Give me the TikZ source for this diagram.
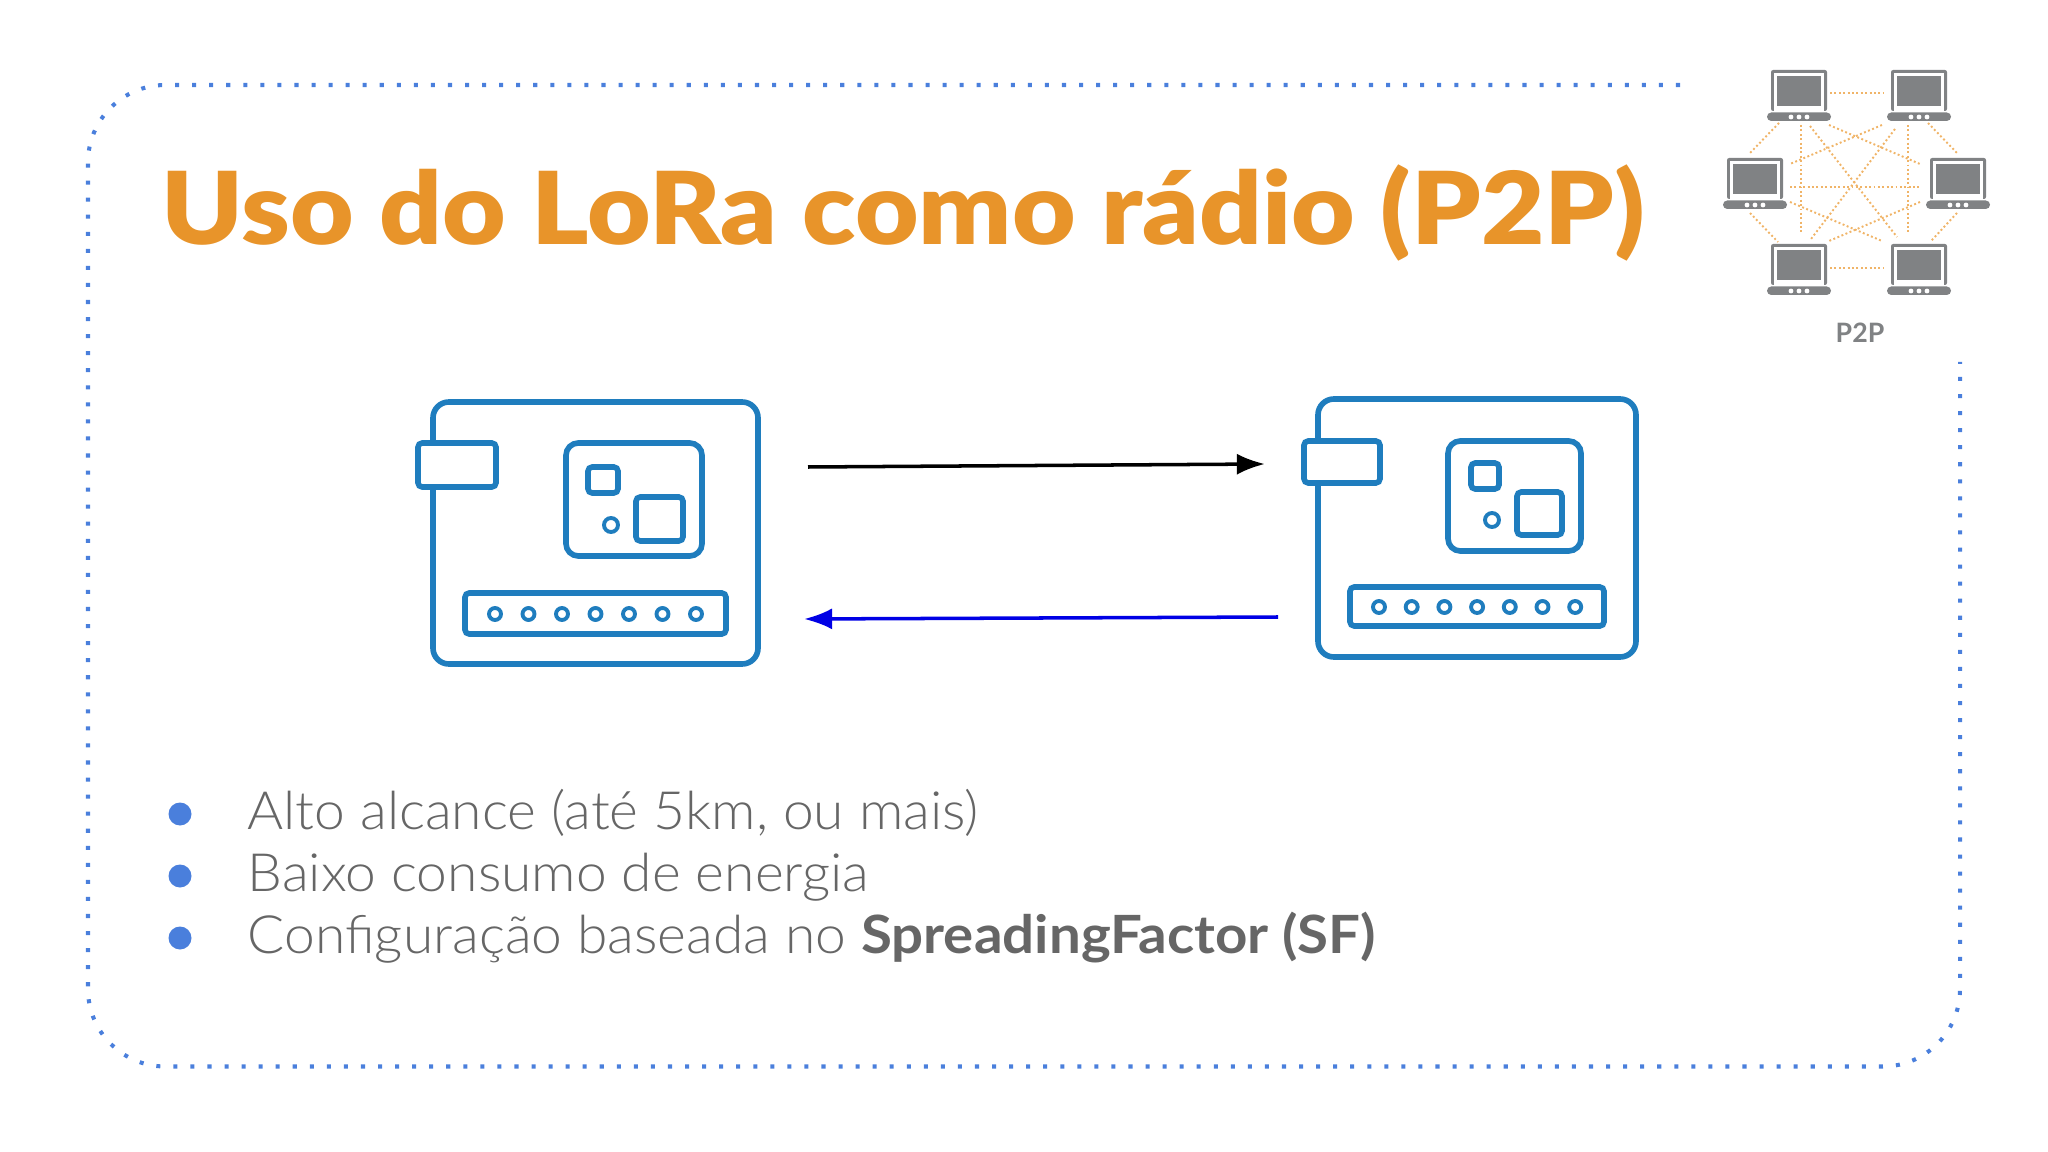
\documentclass[tikz,border=0pt]{standalone}
\usepackage{fontspec}
\setmainfont{Lato}
\newfontfamily\lightfont[FakeStretch=1.045]{Lato Light}
\newfontfamily\strongfont[FakeStretch=1.07]{Lato Bold}
\newfontfamily\heavyfont[FakeStretch=1.09]{Lato Black}
\usetikzlibrary{arrows.meta}
\definecolor{boardblue}{HTML}{1F7DBE}
\definecolor{framblue}{HTML}{4A7FDC}
\definecolor{titleorange}{HTML}{E8942A}
\definecolor{lapgray}{HTML}{808284}
\definecolor{textgray}{HTML}{666666}
\definecolor{linkorange}{HTML}{F0B468}
\tikzset{
  board/.style={draw=boardblue,line width=1.6pt,rounded corners=4.5pt,fill=white},
  part/.style={draw=boardblue,line width=1.6pt,rounded corners=1.2pt,fill=white},
  pin/.style={draw=boardblue,line width=1.1pt},
  link/.style={draw=linkorange,line width=0.55pt,dash pattern=on 0.55pt off 0.7pt},
  bullettext/.style={anchor=base west,inner sep=0pt,text=textgray,font=\lightfont\fontsize{15}{17}\selectfont},
  laptop/.pic={
    \fill[lapgray,rounded corners=0.6pt] (-28,0) rectangle (28,41);
    \fill[white] (-25,3) rectangle (25,41);
    \fill[lapgray] (-22,6) rectangle (22,36);
    \fill[lapgray,rounded corners=1.2pt] (-32,42.5) rectangle (32,51);
    \foreach \dx in {-8,0,8} \fill[white] (\dx,47) circle (2.4);
  }
}
\begin{document}
\begin{tikzpicture}[x=0.01cm,y=-0.01cm]
  \useasboundingbox (0,0) rectangle (2048,1152);
% Dotted frame
  \draw[framblue,line width=1.15pt,dash pattern=on 1.15pt off 3.7pt,rounded corners=22pt]
    (1680,85) -- (88,85) -- (88,1066.5) -- (1960,1066.5) -- (1960,362);
% Title
  \node[anchor=base west,inner sep=0pt,text=titleorange] (title) at (161,245)
    {\fontsize{28.6}{34}\heavyfont Uso do LoRa como rádio (P2P)};
% P2P network
  \foreach \ax/\ay/\bx/\by in {1830/93/1884/93,1830/268/1884/268,1779/123/1750/153,
    1928/123/1957/153,1750/213/1778/242,1957/213/1931/241,1801/125/1801/233,
    1908/125/1908/233,1810/126/1897/237,1895/129/1811/239,1829/125/1920/164,
    1882/125/1790/164,1790/187/1920/187,1790/202/1882/241,1920/202/1829/241}
    \draw[link] (\ax,\ay) -- (\bx,\by);
  \pic at (1799,70) {laptop};
  \pic at (1919,70) {laptop};
  \pic at (1755,158) {laptop};
  \pic at (1958,158) {laptop};
  \pic at (1799,244) {laptop};
  \pic at (1919,244) {laptop};
  \node[text=lapgray,inner sep=0pt,font=\fontsize{7.6}{9}\selectfont\bfseries] (ptwop) at (1860,333) {P2P};
% Left board
  \draw[board] (433,402) rectangle (758,664);
  \draw[part] (418,443) rectangle (496,487);
  \draw[board,rounded corners=3.5pt] (566,443) rectangle (702,556);
  \draw[part] (588,467) rectangle (618,493);
  \draw[part] (636,497) rectangle (683,541);
  \draw[pin] (611,525) circle (7);
  \draw[part] (465,593) rectangle (726,634);
  \foreach \i in {0,...,6} \draw[pin] (495+33.5*\i,614) circle (6);
% Right board
  \draw[board] (1318,399) rectangle (1636,657);
  \draw[part] (1304,441) rectangle (1380,483);
  \draw[board,rounded corners=3.5pt] (1448,441) rectangle (1581,551);
  \draw[part] (1471,463) rectangle (1499,489);
  \draw[part] (1517,492) rectangle (1562,535);
  \draw[pin] (1492,520) circle (7);
  \draw[part] (1350,587) rectangle (1604,626);
  \foreach \i in {0,...,6} \draw[pin] (1379+32.7*\i,607) circle (6);
% Arrows between the boards
  \coordinate (txa) at (808,467);
  \coordinate (txb) at (1265,464);
  \coordinate (rxa) at (1278,617);
  \coordinate (rxb) at (804,619);
  \draw[-{Latex[length=8pt,width=6pt]},line width=1pt,black] (txa) -- (txb);
  \draw[-{Latex[length=8pt,width=6pt]},line width=1pt,blue!90!black] (rxa) -- (rxb);
% Bullet list
  \foreach \by in {814,876,938} \fill[framblue] (180,\by) circle (11.5);
  \node[bullettext] (alto) at (247,829) {Alto alcance (até 5km, ou mais)};
  \node[bullettext] (baixo) at (247,891) {Baixo consumo de energia};
  \node[bullettext] (config) at (247,953) {Configuração baseada no {\strongfont SpreadingFactor (SF)}};
\end{tikzpicture}
\end{document}
